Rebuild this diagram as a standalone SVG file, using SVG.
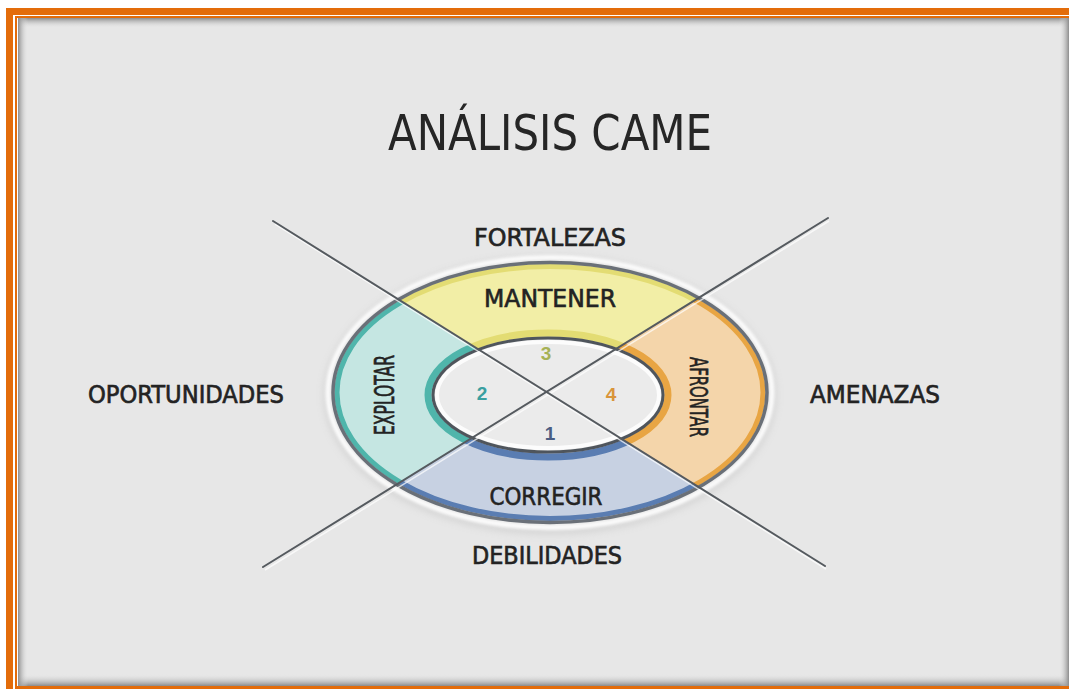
<svg xmlns="http://www.w3.org/2000/svg" width="1069" height="689" viewBox="0 0 1069 689">
  <defs>
    <style>
      .lbl { font-family: "Liberation Sans Narrow", "DejaVu Sans Condensed", "Liberation Sans", sans-serif; fill: #232323; stroke: #232323; stroke-width: 0.6; text-anchor: middle; }
      .title { font-family: "Liberation Sans Narrow", "DejaVu Sans Condensed", "Liberation Sans", sans-serif; fill: #262626; text-anchor: middle; }
      .num { font-family: "Liberation Sans", "DejaVu Sans", sans-serif; font-weight: bold; font-size: 19px; text-anchor: middle; }
      .orange { fill: #e36c0a; }
      .axis { stroke: #555a5f; stroke-width: 2; stroke-linecap: round; fill: none; }
      .axisHi { stroke: #ffffff; stroke-width: 1.5; stroke-opacity: 0.7; fill: none; }
    </style>
    <linearGradient id="gTop" x1="0" y1="0" x2="0" y2="1">
      <stop offset="0" stop-color="#8c8c8c"/><stop offset="1" stop-color="#e8e8e8" stop-opacity="0"/>
    </linearGradient>
    <linearGradient id="gBot" x1="0" y1="1" x2="0" y2="0">
      <stop offset="0" stop-color="#8a8a8a"/><stop offset="1" stop-color="#e8e8e8" stop-opacity="0"/>
    </linearGradient>
    <linearGradient id="gLeft" x1="0" y1="0" x2="1" y2="0">
      <stop offset="0" stop-color="#8c8c8c"/><stop offset="1" stop-color="#e8e8e8" stop-opacity="0"/>
    </linearGradient>
    <linearGradient id="gRight" x1="1" y1="0" x2="0" y2="0">
      <stop offset="0" stop-color="#8c8c8c"/><stop offset="1" stop-color="#e8e8e8" stop-opacity="0"/>
    </linearGradient>
    <filter id="blur4" x="-20%" y="-20%" width="140%" height="140%"><feGaussianBlur stdDeviation="4"/></filter>
    <filter id="blur2" x="-20%" y="-20%" width="140%" height="140%"><feGaussianBlur stdDeviation="1.5"/></filter>
    <clipPath id="cTop"><polygon points="546,392 -6,47 1111,43"/></clipPath>
    <clipPath id="cRight"><polygon points="546,392 1111,43 1098,737"/></clipPath>
    <clipPath id="cBot"><polygon points="546,392 1098,737 -19,741"/></clipPath>
    <clipPath id="cLeft"><polygon points="546,392 -19,741 -6,47"/></clipPath>
    <path id="ring" fill-rule="evenodd" d="M333,392.5 a217,130 0 1,0 434,0 a217,130 0 1,0 -434,0 Z M433,395 a115,57 0 1,0 230,0 a115,57 0 1,0 -230,0 Z"/>
  </defs>

  <!-- background and frame -->
  <rect x="0" y="0" width="1069" height="689" fill="#ffffff"/>
  <g id="frame">
    <rect x="18" y="18" width="1051" height="668" fill="#e7e7e7"/>
    <rect x="18" y="18" width="1051" height="10" fill="url(#gTop)"/>
    <rect x="18" y="674" width="1051" height="12" fill="url(#gBot)"/>
    <rect x="18" y="18" width="10" height="668" fill="url(#gLeft)"/>
    <rect x="1059" y="18" width="10" height="668" fill="url(#gRight)"/>
    <rect class="orange" x="6" y="8" width="1063" height="7"/>
    <rect class="orange" x="6" y="8" width="7" height="681"/>
    <rect class="orange" x="15" y="16" width="1054" height="2"/>
    <rect class="orange" x="15" y="16" width="2" height="673"/>
    <rect class="orange" x="15" y="686" width="1054" height="3"/>
  </g>

  <g id="title">
    <text class="title" x="550" y="150" font-size="50" textLength="324" lengthAdjust="spacingAndGlyphs">ANÁLISIS CAME</text>
  </g>

  <!-- halo around the ring -->
  <g id="halo">
    <ellipse cx="550" cy="395" rx="222" ry="135" fill="none" stroke="#9a9a9a" stroke-width="6" opacity="0.35" filter="url(#blur4)"/>
    <ellipse cx="550" cy="392.5" rx="222" ry="135" fill="none" stroke="#ffffff" stroke-width="5" opacity="0.9" filter="url(#blur2)"/>
  </g>

  <g id="seg-mantener" clip-path="url(#cTop)">
    <use href="#ring" fill="#f2eea6"/>
    <ellipse cx="550" cy="392.5" rx="213" ry="126" fill="none" stroke="#e3dc73" stroke-width="5"/>
    <ellipse cx="548" cy="395" rx="120" ry="62" fill="none" stroke="#e3dc73" stroke-width="7"/>
  </g>
  <g id="seg-afrontar" clip-path="url(#cRight)">
    <use href="#ring" fill="#f4d5aa"/>
    <ellipse cx="550" cy="392.5" rx="213" ry="126" fill="none" stroke="#e8a543" stroke-width="5"/>
    <ellipse cx="548" cy="395" rx="120" ry="62" fill="none" stroke="#e8a543" stroke-width="7"/>
  </g>
  <g id="seg-corregir" clip-path="url(#cBot)">
    <use href="#ring" fill="#c7d1e2"/>
    <ellipse cx="550" cy="392.5" rx="213" ry="126" fill="none" stroke="#5a7db2" stroke-width="5"/>
    <ellipse cx="548" cy="395" rx="120" ry="62" fill="none" stroke="#5a7db2" stroke-width="7"/>
  </g>
  <g id="seg-explotar" clip-path="url(#cLeft)">
    <use href="#ring" fill="#c5e6e2"/>
    <ellipse cx="550" cy="392.5" rx="213" ry="126" fill="none" stroke="#4fb5ab" stroke-width="5"/>
    <ellipse cx="548" cy="395" rx="120" ry="62" fill="none" stroke="#4fb5ab" stroke-width="7"/>
  </g>

  <g id="center">
    <ellipse cx="548" cy="395" rx="115" ry="57" fill="#ebebeb"/>
    <ellipse cx="548" cy="395" rx="111" ry="53" fill="none" stroke="#ffffff" stroke-width="4" opacity="0.85"/>
    <ellipse cx="548" cy="395" rx="115" ry="57" fill="none" stroke="#4f555c" stroke-width="3"/>
    <ellipse cx="550" cy="392.5" rx="217" ry="130" fill="none" stroke="#6a7078" stroke-width="3.5"/>
  </g>

  <g id="connectors">
    <line class="axisHi" x1="275" y1="224" x2="826" y2="569"/>
    <line class="axisHi" x1="265" y1="570" x2="829" y2="221"/>
    <line class="axis" x1="273" y1="221" x2="825" y2="566"/>
    <line class="axis" x1="263" y1="567" x2="828" y2="218"/>
  </g>

  <g id="numbers">
    <text class="num" x="546" y="360" fill="#a6b155">3</text>
    <text class="num" x="482" y="400" fill="#3a9fa0">2</text>
    <text class="num" x="611" y="401" fill="#d9953a">4</text>
    <text class="num" x="550" y="440" fill="#4a5d82">1</text>
  </g>

  <g id="label-fortalezas"><text class="lbl" x="550" y="246" font-size="24" textLength="152" lengthAdjust="spacingAndGlyphs">FORTALEZAS</text></g>
  <g id="label-mantener"><text class="lbl" x="550" y="307" font-size="25" textLength="132" lengthAdjust="spacingAndGlyphs">MANTENER</text></g>
  <g id="label-oportunidades"><text class="lbl" x="186" y="403" font-size="24" textLength="196" lengthAdjust="spacingAndGlyphs">OPORTUNIDADES</text></g>
  <g id="label-amenazas"><text class="lbl" x="875" y="403" font-size="24" textLength="130" lengthAdjust="spacingAndGlyphs">AMENAZAS</text></g>
  <g id="label-explotar"><text class="lbl" x="394" y="395" font-size="26" textLength="80" lengthAdjust="spacingAndGlyphs" transform="rotate(-90 394 395)">EXPLOTAR</text></g>
  <g id="label-afrontar"><text class="lbl" x="690" y="397" font-size="24" textLength="80" lengthAdjust="spacingAndGlyphs" transform="rotate(90 690 397)">AFRONTAR</text></g>
  <g id="label-corregir"><text class="lbl" x="546" y="505" font-size="25" textLength="113" lengthAdjust="spacingAndGlyphs">CORREGIR</text></g>
  <g id="label-debilidades"><text class="lbl" x="547" y="564" font-size="24" textLength="150" lengthAdjust="spacingAndGlyphs">DEBILIDADES</text></g>
</svg>
